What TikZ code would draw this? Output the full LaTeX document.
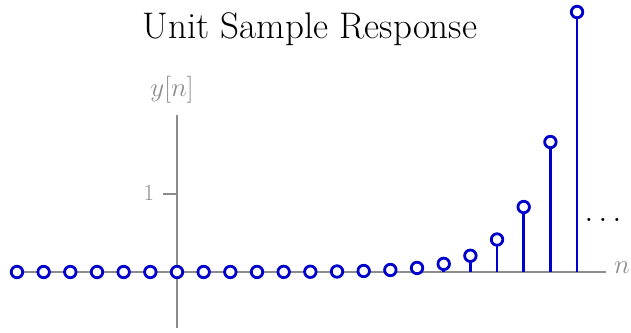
\documentclass[tikz,border=0pt]{standalone}
\usepackage{fix-cm}
\begin{document}
\begin{tikzpicture}[x=1pt,y=-1pt,
  axis/.style={draw=axgray,line width=1.4pt},
  stem/.style={draw=stemblue,line width=2.6pt},
  tip/.style={circle,draw=stemblue,fill=white,line width=2.8pt,minimum size=11.5pt,inner sep=0pt},
  lbl/.style={text=axgray,font=\fontsize{27}{30}\selectfont}]
\definecolor{axgray}{RGB}{140,140,140}
\definecolor{stemblue}{RGB}{0,0,204}
\useasboundingbox (0,0) rectangle (631,332);
\node (title) at (310,29) {\fontsize{37}{40}\selectfont Unit Sample Response};
\coordinate (xl) at (10,272);
\coordinate (xr) at (606,272);
\coordinate (yb) at (177,328);
\coordinate (yt) at (177,115);
\coordinate (tk) at (163,194);
\draw[axis] (xl) -- (xr);
\draw[axis] (yb) -- (yt);
\draw[axis] (tk) -- (177,194);
\node[text=axgray,font=\fontsize{23}{26}\selectfont] (one) at (149,193) {$1$};
\node[lbl] (nlab) at (622,268) {$n$};
\node[lbl] (ylab) at (172,90) {$y[n]$};
\node[font=\fontsize{32}{34}\selectfont,inner sep=0pt,anchor=base] (dots) at (603,221) {$\ldots$};
\foreach \n in {-6,...,15}{
  \pgfmathsetmacro{\xx}{177+26.67*\n}
  \pgfmathsetmacro{\hh}{\n<0 ? 0 : 260*pow(2,\n-15)}
  \coordinate (b\n) at (\xx,272);
  \coordinate (t\n) at (\xx,272-\hh);
  \draw[stem] (b\n) -- (t\n);
  \node[tip] (c\n) at (t\n) {};
}
\end{tikzpicture}
\end{document}
